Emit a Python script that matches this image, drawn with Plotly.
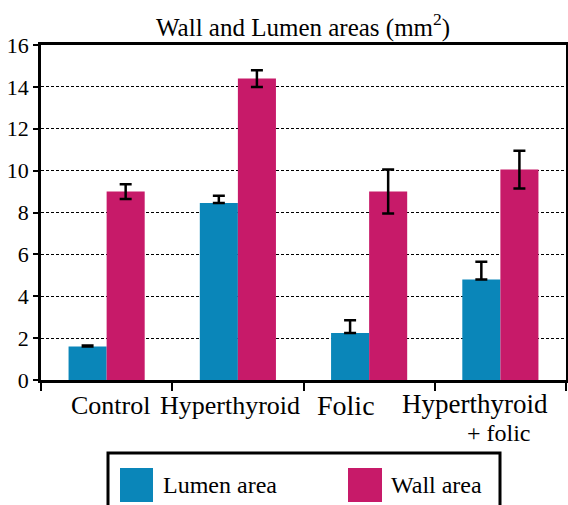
import plotly.graph_objects as go

# --- Data ---
groups = ["Control", "Hyperthyroid", "Folic", "Hyperthyroid + folic"]
group_labels = ["Control", "Hyperthyroid", "Folic", "Hyperthyroid"]
lumen_area = [1.6, 8.45, 2.25, 4.8]
lumen_err = [0.05, 0.35, 0.6, 0.85]
wall_area = [9.0, 14.4, 9.0, 10.05]
wall_err = [0.35, 0.4, 1.05, 0.9]
y_ticks = [0, 2, 4, 6, 8, 10, 12, 14, 16]

_COLOR_LUMEN = "#0A86B9"
_COLOR_WALL = "#C71A69"
_FONT = "Liberation Serif, Times New Roman, serif"

# plot area in pixels (for decoration placement)
_L, _R, _T, _B = 41, 566, 45, 380
W, H = 568, 505


def px_x(x):
    return (x - _L) / (_R - _L)


def px_y(y):
    return (_B - y) / (_B - _T)


fig = go.Figure()

fig.add_trace(
    go.Bar(
        x=groups,
        y=lumen_area,
        name="Lumen area",
        marker=dict(color=_COLOR_LUMEN, line=dict(width=0)),
        error_y=dict(type="data", array=lumen_err, arrayminus=[0] * len(lumen_err),
                     symmetric=False, color="black", thickness=2.5, width=6),
        showlegend=False,
    )
)
fig.add_trace(
    go.Bar(
        x=groups,
        y=wall_area,
        name="Wall area",
        marker=dict(color=_COLOR_WALL, line=dict(width=0)),
        error_y=dict(type="data", array=wall_err, color="black", thickness=2.5, width=6),
        showlegend=False,
    )
)

# --- Category labels below the axis ---
label_px = [110, 230, 346, 475]
label_y = [405, 405, 405, 404]
label_sizes = [26, 26, 28, 27]
annotations = []
for text, xp, yp, sz in zip(group_labels, label_px, label_y, label_sizes):
    annotations.append(dict(
        x=px_x(xp), y=px_y(yp), xref="paper", yref="paper",
        text=text, showarrow=False, xanchor="center", yanchor="middle",
        font=dict(family=_FONT, size=sz, color="black"),
    ))
annotations.append(dict(
    x=px_x(499), y=px_y(433), xref="paper", yref="paper",
    text="+ folic", showarrow=False, xanchor="center", yanchor="middle",
    font=dict(family=_FONT, size=24, color="black"),
))

# --- Legend (drawn manually for large swatches) ---
shapes = [
    dict(type="rect", xref="paper", yref="paper",
         x0=px_x(108), x1=px_x(500), y0=px_y(453), y1=px_y(530),
         line=dict(color="black", width=3), fillcolor="white"),
    dict(type="rect", xref="paper", yref="paper",
         x0=px_x(120), x1=px_x(153), y0=px_y(468), y1=px_y(502),
         line=dict(width=0), fillcolor=_COLOR_LUMEN),
    dict(type="rect", xref="paper", yref="paper",
         x0=px_x(348), x1=px_x(382), y0=px_y(468), y1=px_y(502),
         line=dict(width=0), fillcolor=_COLOR_WALL),
]
annotations.append(dict(
    x=px_x(161), y=px_y(485), xref="paper", yref="paper", text="Lumen area",
    showarrow=False, xanchor="left", yanchor="middle",
    font=dict(family=_FONT, size=24, color="black"),
))
annotations.append(dict(
    x=px_x(389), y=px_y(485), xref="paper", yref="paper", text="Wall area",
    showarrow=False, xanchor="left", yanchor="middle",
    font=dict(family=_FONT, size=24, color="black"),
))

# --- Title ---
annotations.append(dict(
    x=px_x(303), y=px_y(26), xref="paper", yref="paper",
    text="Wall and Lumen areas (mm<sup>2</sup>)", showarrow=False,
    xanchor="center", yanchor="middle",
    font=dict(family=_FONT, size=25, color="black"),
))

fig.update_layout(
    width=W,
    height=H,
    margin=dict(l=_L, r=W - _R, t=_T, b=H - _B),
    barmode="group",
    bargap=0.42,
    bargroupgap=0,
    plot_bgcolor="white",
    paper_bgcolor="white",
    font=dict(family=_FONT, color="black"),
    xaxis=dict(
        showticklabels=False,
        ticks="outside",
        tickson="boundaries",
        ticklen=8,
        tickwidth=2,
        tickcolor="black",
        showline=True,
        linecolor="black",
        linewidth=2.5,
        mirror=True,
        showgrid=False,
        automargin=False,
    ),
    yaxis=dict(
        range=[0, 16],
        tickvals=y_ticks,
        ticks="outside",
        ticklen=5,
        tickwidth=2,
        tickcolor="black",
        tickfont=dict(family=_FONT, size=22, color="black"),
        showline=True,
        linecolor="black",
        linewidth=2.5,
        mirror=True,
        showgrid=True,
        gridcolor="black",
        gridwidth=1,
        griddash="3px,2px",
        zeroline=False,
        automargin=False,
    ),
    shapes=shapes,
    annotations=annotations,
)

fig.write_html(
    "out.html",
    config={"displayModeBar": False},
    post_script="document.body.style.margin='0px';",
)
